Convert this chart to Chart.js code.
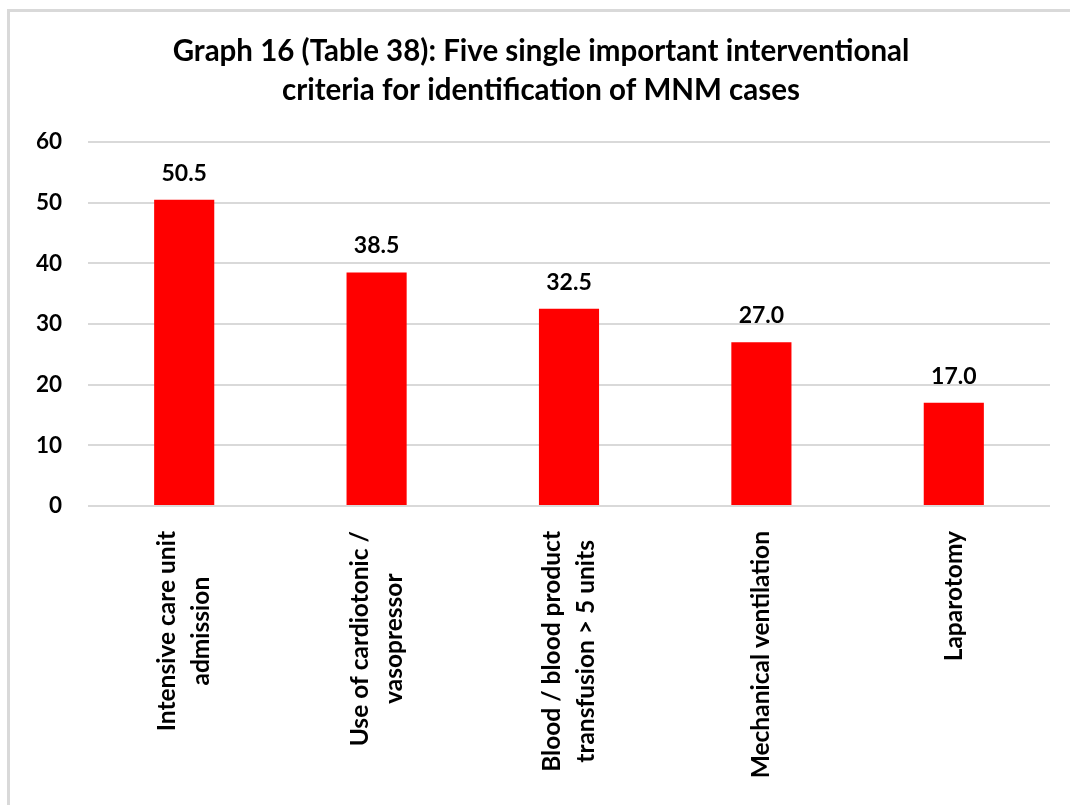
<!DOCTYPE html>
<html>
<head>
<meta charset="utf-8">
<script src="https://cdn.jsdelivr.net/npm/chart.js@4"></script>
<style>
  html, body { margin: 0; padding: 0; background: #fff; }
  #frame {
    position: absolute; left: 7px; top: 9px; width: 1070px; height: 805px;
    border-left: 3px solid #d9d9d9; border-top: 3px solid #d9d9d9;
  }
  #wrap { position: absolute; left: 0; top: 0; width: 1070px; height: 805px; }
</style>
</head>
<body>
<div id="frame"></div>
<div id="wrap"><canvas id="chart"></canvas></div>
<script>
// Categories (each inner array is one line of the axis label)
const categories = [
  ['Intensive care unit', 'admission'],
  ['Use of cardiotonic /', 'vasopressor'],
  ['Blood / blood product', 'transfusion > 5 units'],
  ['Mechanical ventilation'],
  ['Laparotomy']
];
const values = [50.5, 38.5, 32.5, 27.0, 17.0];
const yTicks = [0, 10, 20, 30, 40, 50, 60];
const titleLines = [
  'Graph 16 (Table 38): Five single important interventional',
  'criteria for identification of MNM cases'
];

const FONT = 'Lato, "Open Sans", sans-serif';

// two-line heading, centred on the frame rather than the canvas
const heading = {
  id: 'heading',
  afterDraw(chart) {
    const ctx = chart.ctx;
    ctx.save();
    ctx.font = 'bold 29.5px ' + FONT;
    ctx.fillStyle = '#000';
    ctx.textAlign = 'center';
    ctx.textBaseline = 'alphabetic';
    titleLines.forEach((t, i) => ctx.fillText(t, 541, 61 + i * 39));
    ctx.restore();
  }
};

// value labels above each bar
const valueLabels = {
  id: 'valueLabels',
  afterDatasetsDraw(chart) {
    const ctx = chart.ctx;
    const meta = chart.getDatasetMeta(0);
    ctx.save();
    ctx.font = 'bold 23px ' + FONT;
    ctx.fillStyle = '#000';
    ctx.textAlign = 'center';
    ctx.textBaseline = 'alphabetic';
    meta.data.forEach((bar, i) => {
      ctx.fillText(values[i].toFixed(1), bar.x, bar.y - 19);
    });
    ctx.restore();
  }
};

// rotated category labels, lines centred on each other
const xLabels = {
  id: 'xLabels',
  afterDraw(chart) {
    const ctx = chart.ctx;
    const x = chart.scales.x;
    const top = chart.chartArea.bottom + 25;
    const lh = 34;
    ctx.save();
    ctx.font = 'bold 24.5px ' + FONT;
    ctx.fillStyle = '#000';
    ctx.textAlign = 'center';
    ctx.textBaseline = 'middle';
    categories.forEach((lines, i) => {
      const px = x.getPixelForValue(i);
      const w = Math.max(...lines.map(l => ctx.measureText(l).width));
      ctx.save();
      ctx.translate(px, top + w / 2);
      ctx.rotate(-Math.PI / 2);
      lines.forEach((l, j) => {
        ctx.fillText(l, 0, (j - (lines.length - 1) / 2) * lh);
      });
      ctx.restore();
    });
    ctx.restore();
  }
};

new Chart(document.getElementById('chart'), {
  type: 'bar',
  data: {
    labels: categories,
    datasets: [{
      data: values,
      backgroundColor: '#ff0000',
      borderWidth: 0,
      barPercentage: 1,
      categoryPercentage: 0.3125
    }]
  },
  options: {
    responsive: true,
    maintainAspectRatio: false,
    animation: false,
    layout: { padding: { left: 0, right: 20, top: 142, bottom: 291 } },
    plugins: {
      legend: { display: false },
      tooltip: { enabled: false },
      title: { display: false }
    },
    scales: {
      x: {
        grid: { display: false },
        border: { display: false },
        ticks: { display: false }
      },
      y: {
        min: 0,
        max: 60,
        afterBuildTicks(scale) {
          scale.ticks = yTicks.map(v => ({ value: v }));
        },
        afterFit(scale) { scale.width = 88; },
        grid: { color: '#d9d9d9', lineWidth: 2, drawTicks: false },
        border: { display: false },
        ticks: {
          padding: 26,
          color: '#000',
          font: { family: FONT, size: 22.5, weight: 'bold' }
        }
      }
    }
  },
  plugins: [heading, valueLabels, xLabels]
});
</script>
</body>
</html>
